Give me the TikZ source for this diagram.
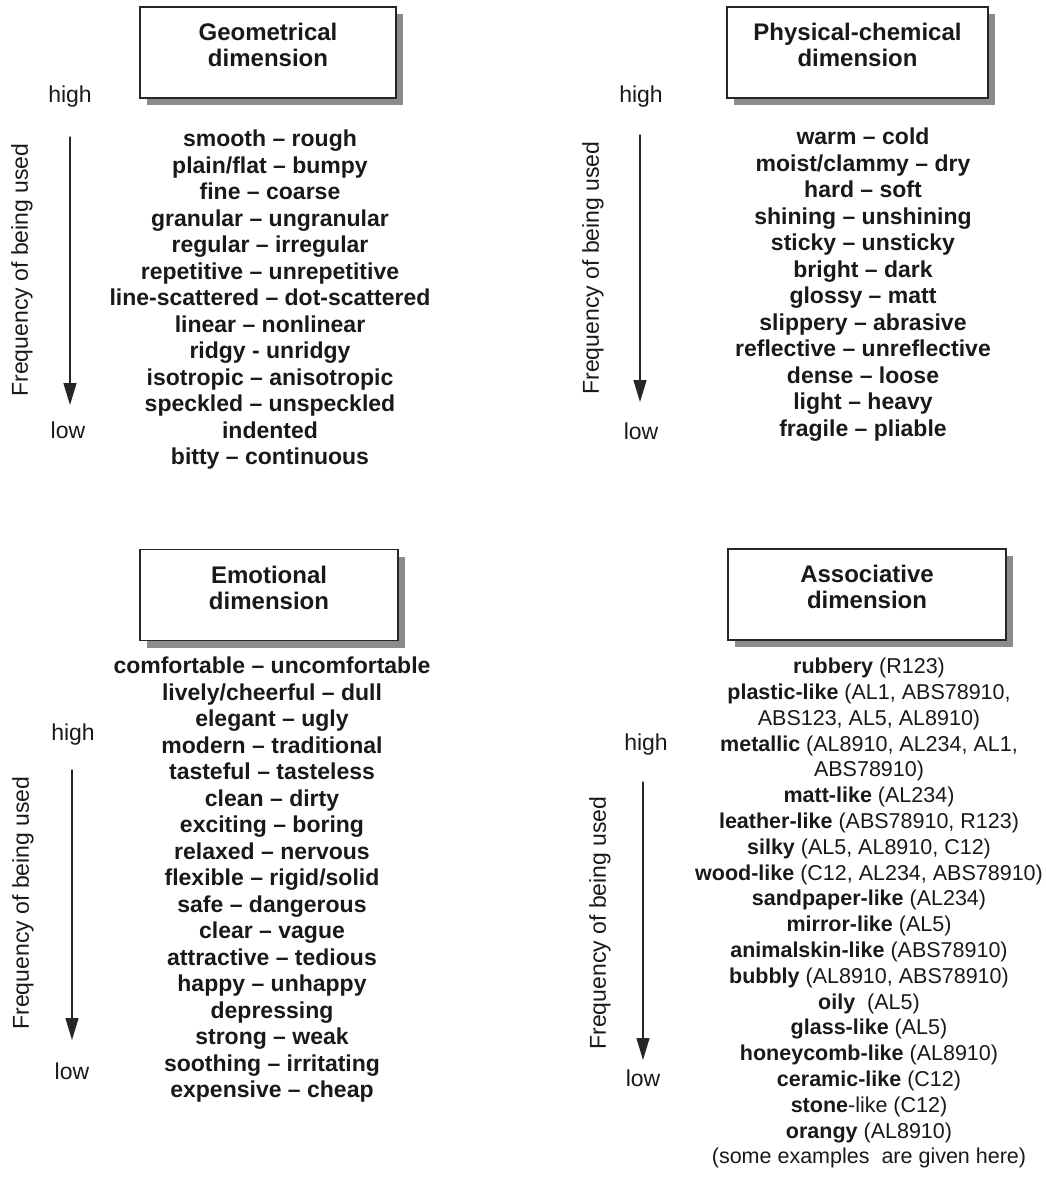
\documentclass[tikz,border=0pt]{standalone}
\usepackage{fontspec}
\setmainfont{Liberation Sans}
\usetikzlibrary{arrows.meta,shadows}

\begin{document}
\begin{tikzpicture}
		[x=1pt,y=-1pt,line cap=round,
		%Styles
		dim box/.style={draw=black!85,line width=1.6pt,fill=white,minimum width=#1,minimum height=91pt,inner sep=0pt,
			drop shadow={shadow xshift=7pt,shadow yshift=-7pt,fill=black!45,opacity=1}},
		dim title/.style={align=center,inner sep=0pt,font=\bfseries\fontsize{24}{26}\selectfont,text=black!90},
		word list/.style={align=center,anchor=north,inner sep=0pt,font=\bfseries\fontsize{23}{26.5}\selectfont,text=black!90},
		level text/.style={inner sep=0pt,font=\fontsize{23}{26}\selectfont,text=black!90},
		freq arrow/.style={line width=1.3pt,black!85,-{Triangle[length=22pt,width=13pt]}}
		]
		
		\useasboundingbox (0,0) rectangle (1045,1182);
		
		%Geometrical dimension
		\node[dim box=256pt] (geobox) at (268,52.5) {};
		\node[dim title] (geotitle) at (268,45) {Geometrical\\dimension};
		\node[level text] (geohigh) at (70,97) {high};
		\node[level text] (geolow) at (68,430) {low};
		\node[level text,rotate=90] (geofreq) at (22,270) {Frequency of being used};
		\coordinate (geotop) at (70,137);
		\coordinate (geotip) at (70,405);
		\draw[freq arrow] (geotop) -- (geotip);
		\node[word list] (geowords) at (270,130) {smooth – rough\\plain/flat – bumpy\\fine – coarse\\granular – ungranular\\regular – irregular\\repetitive – unrepetitive\\line-scattered – dot-scattered\\linear – nonlinear\\ridgy - unridgy\\isotropic – anisotropic\\speckled – unspeckled\\indented\\bitty – continuous};
		
		%Physical-chemical dimension
		\node[dim box=261pt] (phybox) at (857.5,52.5) {};
		\node[dim title] (phytitle) at (857.5,45) {Physical-chemical\\dimension};
		\node[level text] (phyhigh) at (641,97) {high};
		\node[level text] (phylow) at (641,431) {low};
		\node[level text,rotate=90] (phyfreq) at (593,268) {Frequency of being used};
		\coordinate (phytop) at (640,135);
		\coordinate (phytip) at (640,402);
		\draw[freq arrow] (phytop) -- (phytip);
		\node[word list] (phywords) at (863,128) {warm – cold\\moist/clammy – dry\\hard – soft\\shining – unshining\\sticky – unsticky\\bright – dark\\glossy – matt\\slippery – abrasive\\reflective – unreflective\\dense – loose\\light – heavy\\fragile – pliable};
		
		%Emotional dimension
		\node[dim box=258pt] (emobox) at (269,595) {};
		\node[dim title] (emotitle) at (269,588) {Emotional\\dimension};
		\node[level text] (emohigh) at (73,735) {high};
		\node[level text] (emolow) at (72,1071) {low};
		\node[level text,rotate=90] (emofreq) at (23,903) {Frequency of being used};
		\coordinate (emotop) at (72,770);
		\coordinate (emotip) at (72,1040);
		\draw[freq arrow] (emotop) -- (emotip);
		\node[word list] (emowords) at (272,657) {comfortable – uncomfortable\\lively/cheerful – dull\\elegant – ugly\\modern – traditional\\tasteful – tasteless\\clean – dirty\\exciting – boring\\relaxed – nervous\\flexible – rigid/solid\\safe – dangerous\\clear – vague\\attractive – tedious\\happy – unhappy\\depressing\\strong – weak\\soothing – irritating\\expensive – cheap};
		
		%Associative dimension
		\node[dim box=278pt] (assbox) at (867,594.5) {};
		\node[dim title] (asstitle) at (867,587) {Associative\\dimension};
		\node[level text] (asshigh) at (646,745) {high};
		\node[level text] (asslow) at (643,1078) {low};
		\node[level text,rotate=90] (assfreq) at (600,923) {Frequency of being used};
		\coordinate (asstop) at (643,782);
		\coordinate (asstip) at (643,1060);
		\draw[freq arrow] (asstop) -- (asstip);
		\node[word list,font=\fontsize{21.5}{25.8}\selectfont] (asswords) at (869,658) {\textbf{rubbery} (R123)\\\textbf{plastic-like} (AL1, ABS78910,\\ABS123, AL5, AL8910)\\\textbf{metallic} (AL8910, AL234, AL1,\\ABS78910)\\\textbf{matt-like} (AL234)\\\textbf{leather-like} (ABS78910, R123)\\\textbf{silky} (AL5, AL8910, C12)\\\textbf{wood-like} (C12, AL234, ABS78910)\\\textbf{sandpaper-like} (AL234)\\\textbf{mirror-like} (AL5)\\\textbf{animalskin-like} (ABS78910)\\\textbf{bubbly} (AL8910, ABS78910)\\\textbf{oily}\ \ (AL5)\\\textbf{glass-like} (AL5)\\\textbf{honeycomb-like} (AL8910)\\\textbf{ceramic-like} (C12)\\\textbf{stone}-like (C12)\\\textbf{orangy} (AL8910)\\(some examples\ \ are given here)};
	\end{tikzpicture}
\end{document}
